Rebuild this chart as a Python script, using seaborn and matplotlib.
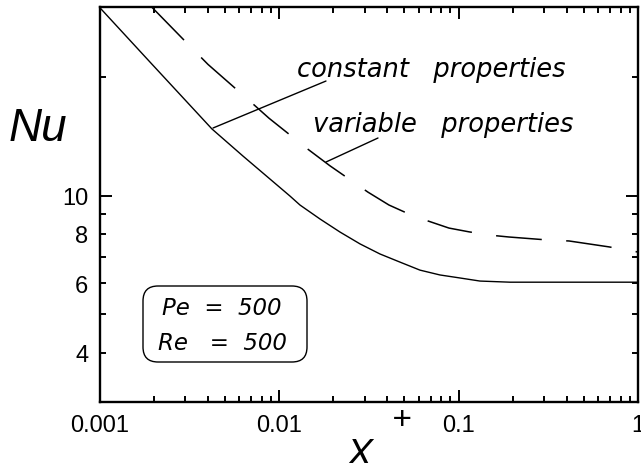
import matplotlib
matplotlib.use("Agg")
import matplotlib.pyplot as plt
import matplotlib.ticker as mticker
import matplotlib.patches as mpatches
import pandas as pd
import seaborn as sns

# ---- data ----
x_const = [0.001, 0.00191, 0.00423, 0.00630, 0.01151, 0.01309, 0.01692, 0.02187,
           0.02827, 0.0365, 0.0472, 0.0610, 0.0788, 0.1019, 0.1317, 0.1936, 1.0]
nu_const = [30.0, 21.8, 14.75, 12.59, 9.97, 9.46, 8.72, 8.08,
            7.54, 7.11, 6.78, 6.47, 6.29, 6.18, 6.07, 6.03, 6.03]

x_var = [0.00196, 0.00311, 0.00402, 0.00664, 0.00880, 0.0145, 0.0192, 0.0313,
         0.0410, 0.0523, 0.0676, 0.0885, 0.1144, 0.148, 0.191, 0.319, 0.413,
         0.689, 1.0]
nu_var = [30.0, 24.2, 21.5, 17.6, 15.7, 13.1, 11.9, 10.2,
          9.46, 9.00, 8.62, 8.27, 8.09, 7.94, 7.85, 7.71, 7.67,
          7.41, 7.19]

x_major = [0.001, 0.01, 0.1, 1.0]
x_major_labels = ["0.001", "0.01", "0.1", "1"]
y_major = [10]
y_minor = [4, 5, 6, 7, 8, 9, 20]
y_labelled = [4, 6, 8, 10]

label_const = "constant   properties"
label_var = "variable   properties"
pe_text = "Pe  =  500"
re_text = "Re   =  500"

sns.set_style("ticks")
plt.rcParams["font.family"] = ["Liberation Sans", "DejaVu Sans"]
plt.rcParams["text.color"] = "black"
plt.rcParams["axes.labelcolor"] = "black"
plt.rcParams["xtick.color"] = "black"
plt.rcParams["ytick.color"] = "black"
plt.rcParams["axes.edgecolor"] = "black"

fig = plt.figure(figsize=(6.41, 4.64), dpi=100)
ax = fig.add_axes([99.5 / 641, (464 - 402.8) / 464, 538.5 / 641, 394.5 / 464])

df_c = pd.DataFrame({"x": x_const, "Nu": nu_const})
df_v = pd.DataFrame({"x": x_var, "Nu": nu_var})

sns.lineplot(data=df_c, x="x", y="Nu", ax=ax, color="black", lw=1.0,
             estimator=None, sort=False)
sns.lineplot(data=df_v, x="x", y="Nu", ax=ax, color="black", lw=1.1,
             estimator=None, sort=False)
ax.lines[-1].set_dashes((30, 16))

ax.set_xscale("log")
ax.set_yscale("log")
ax.set_xlim(0.001, 1.0)
ax.set_ylim(3, 30)

ax.xaxis.set_major_locator(mticker.FixedLocator(x_major))
ax.xaxis.set_major_formatter(mticker.FixedFormatter(x_major_labels))
ax.xaxis.set_minor_locator(mticker.LogLocator(base=10, subs=range(2, 10)))
ax.xaxis.set_minor_formatter(mticker.NullFormatter())

ax.yaxis.set_major_locator(mticker.FixedLocator(y_major))
ax.yaxis.set_major_formatter(mticker.FuncFormatter(lambda v, p: "%g" % v))
ax.yaxis.set_minor_locator(mticker.FixedLocator(y_minor))
ax.yaxis.set_minor_formatter(mticker.FuncFormatter(
    lambda v, p: ("%g" % v) if round(v) in y_labelled else ""))

for s in ax.spines.values():
    s.set_linewidth(1.7)
    s.set_color("black")
    s.set_visible(True)

ax.tick_params(which="both", direction="in", top=True, right=True,
               colors="black", width=1.4, labelsize=17)
ax.tick_params(which="major", length=8.6)
ax.tick_params(which="minor", length=4.6)
ax.tick_params(axis="x", which="both", pad=9)
ax.tick_params(axis="y", which="both", pad=8)

ax.set_xlabel("X", fontsize=28, style="italic", va="top", color="black")
ax.xaxis.set_label_coords(0.4837, -0.088)
ax.set_ylabel("Nu", fontsize=33, style="italic", rotation=0, ha="center",
              va="center", color="black")
ax.yaxis.set_label_coords(-0.1142, 0.694)
ax.text(0.5617, -0.046, "+", transform=ax.transAxes, fontsize=24,
        style="italic", ha="center", va="center", clip_on=False, color="black")

ital = dict(family=["DejaVu Sans"], style="oblique", color="black")
ax.text(0.3667, 0.826, label_const, transform=ax.transAxes, fontsize=18.5,
        ha="left", va="baseline", **ital)
ax.text(0.3965, 0.6864, label_var, transform=ax.transAxes, fontsize=18.5,
        ha="left", va="baseline", **ital)

ax.annotate("", xy=(0.00429, 14.83), xytext=(0.01827, 19.51),
            arrowprops=dict(arrowstyle="-", lw=1.0, color="black",
                            shrinkA=0, shrinkB=0))
ax.annotate("", xy=(0.01827, 12.16), xytext=(0.0356, 13.99),
            arrowprops=dict(arrowstyle="-", lw=1.0, color="black",
                            shrinkA=0, shrinkB=0))

box = mpatches.FancyBboxPatch((1.43, 1.01), 1.64, 0.76,
                              boxstyle="round,pad=0,rounding_size=0.15",
                              transform=fig.dpi_scale_trans, fill=False,
                              lw=1.0, ec="black")
fig.patches.append(box)
ax.text(0.116, 0.2226, pe_text, transform=ax.transAxes, fontsize=16.5,
        ha="left", va="baseline", **ital)
ax.text(0.1086, 0.1338, re_text, transform=ax.transAxes, fontsize=16.5,
        ha="left", va="baseline", **ital)

fig.savefig("out.png", dpi=100)
